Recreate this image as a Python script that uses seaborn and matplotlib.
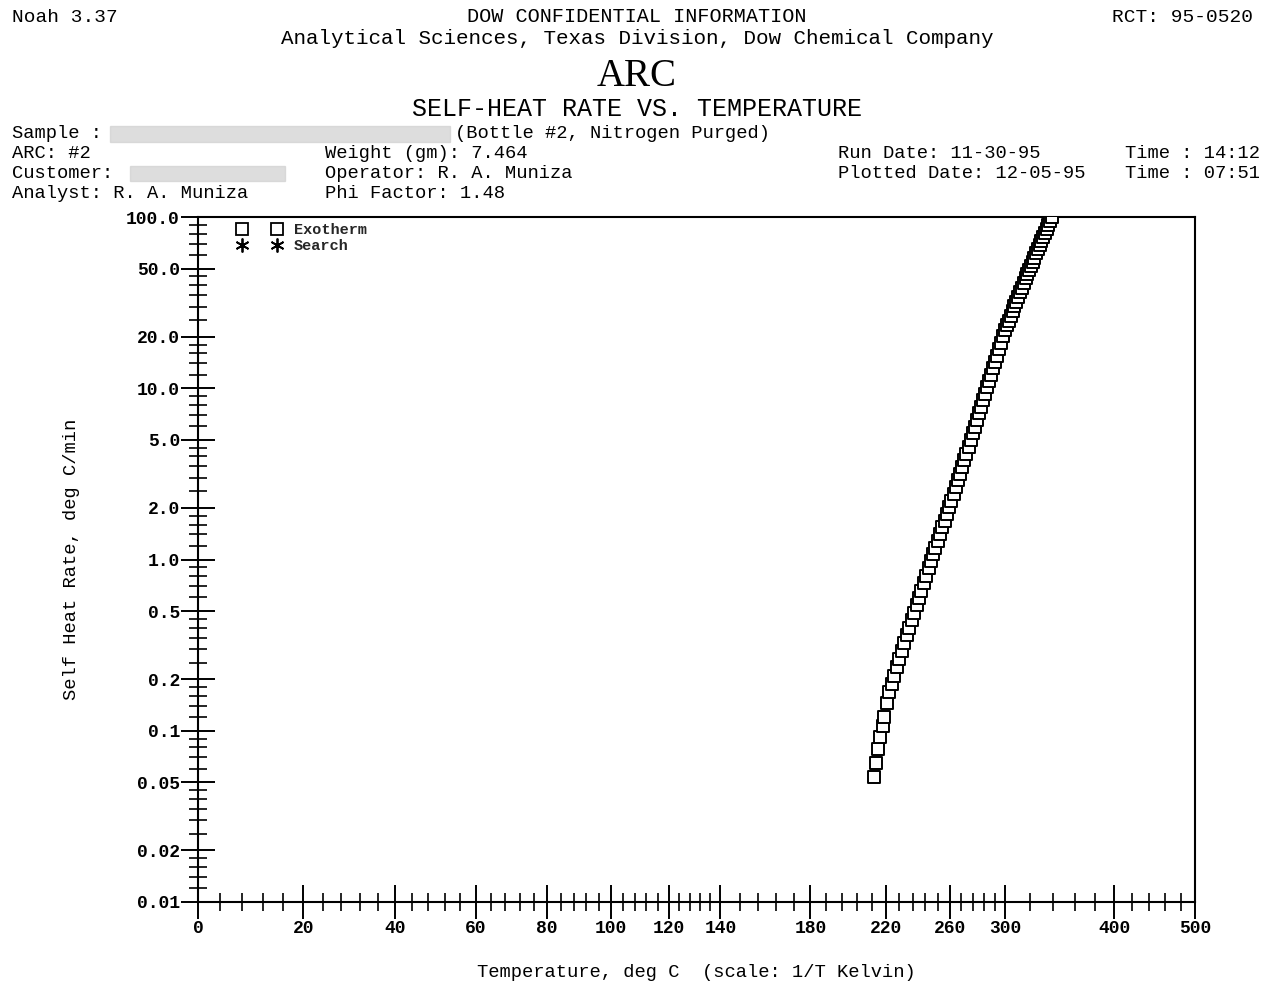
import numpy as np
import matplotlib
matplotlib.use("Agg")
import matplotlib.pyplot as plt
import seaborn as sns
from matplotlib.lines import Line2D
from matplotlib.ticker import FixedLocator, NullFormatter

# exotherm data (deg C, deg C/min)
temps = [213.5, 214.4, 215.7, 216.7, 218.2, 219.2, 220.5, 222.1, 223.5, 225.0,
         226.5, 228.0, 229.5, 231.0, 232.5, 234.0, 235.5, 237.0, 238.5, 240.0,
         241.5, 243.0, 244.5, 246.0, 247.5, 249.0, 250.5, 252.0, 253.5, 255.0,
         256.5, 258.0, 259.5, 261.0, 262.5, 264.0, 265.5, 267.0, 268.5, 270.0,
         271.5, 273.0, 274.5, 276.0, 277.5, 279.0, 280.5, 282.0, 283.5, 285.0,
         286.5, 288.0, 289.5, 291.0, 292.5, 294.0, 295.5, 297.0, 298.5, 300.0,
         301.5, 303.0, 304.5, 306.0, 307.5, 309.0, 310.5, 312.0, 313.5, 315.0,
         316.5, 318.0, 319.5, 321.0, 322.5, 324.0, 325.5, 327.0, 328.5, 330.0,
         331.5, 333.0, 334.5, 336.0, 337.5, 339.0]
rates = [0.0535, 0.065, 0.078, 0.092, 0.107, 0.120, 0.145, 0.169, 0.188, 0.210,
         0.235, 0.263, 0.294, 0.327, 0.361, 0.399, 0.441, 0.488, 0.539, 0.596,
         0.659, 0.728, 0.805, 0.890, 0.980, 1.072, 1.174, 1.284, 1.406, 1.539,
         1.684, 1.843, 2.017, 2.207, 2.415, 2.644, 2.893, 3.168, 3.467, 3.796,
         4.156, 4.550, 4.982, 5.455, 5.970, 6.536, 7.156, 7.815, 8.516, 9.278,
         10.11, 11.01, 12.00, 13.08, 14.25, 15.52, 16.92, 18.43, 20.08, 21.88,
         23.31, 24.83, 26.46, 28.18, 30.04, 32.00, 34.09, 36.32, 38.69, 41.22,
         43.92, 46.66, 49.28, 52.03, 54.95, 58.01, 61.27, 64.70, 68.31, 72.14,
         76.17, 80.44, 84.94, 89.70, 94.71, 100.0]
search_temps = []
search_rates = []

x_major = [0, 20, 40, 60, 80, 100, 120, 140, 180, 220, 260, 300, 400, 500]
y_major = [0.01, 0.02, 0.05, 0.1, 0.2, 0.5, 1, 2, 5, 10, 20, 50, 100]
y_labels = ["0.01", "0.02", "0.05", "0.1", "0.2", "0.5", "1.0", "2.0",
            "5.0", "10.0", "20.0", "50.0", "100.0"]

sns.set_theme(style="white")
mono = "Liberation Mono"
plt.rcParams["font.family"] = [mono, "DejaVu Sans"]

W, H = 1271, 992
fig = plt.figure(figsize=(W / 100, H / 100), dpi=100)
ax = fig.add_axes([198 / W, 1 - 902 / H, 997 / W, 685 / H])


def fwd(t):
    t = np.asarray(t, dtype=float)
    with np.errstate(divide="ignore", invalid="ignore"):
        return -1.0 / (t + 273.15)


def inv(u):
    u = np.asarray(u, dtype=float)
    with np.errstate(divide="ignore", invalid="ignore"):
        return -1.0 / u - 273.15


sns.scatterplot(x=temps, y=rates, ax=ax, marker="s", s=66, color="white",
                edgecolor="black", linewidth=1.4, legend=False, zorder=3)
ax.plot(search_temps, search_rates, ls="none", marker=(6, 2, 0), color="black")

ax.set_xscale("function", functions=(fwd, inv))
ax.set_yscale("log")
ax.set_xlim(0, 500)
ax.set_ylim(0.01, 100)

# ticks
x_minor = [v for v in list(np.arange(0, 140, 4)) + list(np.arange(140, 300, 8))
           + list(np.arange(300, 500, 20)) if v not in x_major]
ax.set_xticks(x_major, [str(v) for v in x_major])
ax.xaxis.set_minor_locator(FixedLocator(x_minor))
ax.xaxis.set_minor_formatter(NullFormatter())

y_minor = []
for dec in [0.01, 0.1, 1, 10]:
    for m in [1.2, 1.4, 1.6, 1.8, 2.5, 3, 3.5, 4, 4.5, 6, 7, 8, 9]:
        y_minor.append(m * dec)
ax.set_yticks(y_major, y_labels)
ax.yaxis.set_minor_locator(FixedLocator(y_minor))
ax.yaxis.set_minor_formatter(NullFormatter())

ax.tick_params(axis="both", which="both", bottom=True, left=True,
               top=False, right=False)
ax.tick_params(axis="both", which="major", direction="inout", length=24,
               width=1.4, colors="black", labelsize=13, pad=1)
ax.tick_params(axis="both", which="minor", direction="inout", length=13,
               width=1.2, colors="black")
for lab in ax.get_xticklabels() + ax.get_yticklabels():
    lab.set_fontweight("bold")
for sp in ax.spines.values():
    sp.set_visible(True)
    sp.set_color("black")
    sp.set_linewidth(1.5)

ax.set_xlabel("Temperature, deg C  (scale: 1/T Kelvin)", fontsize=13.5,
              color="black")
ax.xaxis.set_label_coords(0.5, -0.09)
ax.set_ylabel("Self Heat Rate, deg C/min", fontsize=13.5, color="black")
ax.yaxis.set_label_coords(-0.118, 0.5)

handles = [Line2D([], [], ls="none", marker="s", ms=9, mfc="white", mec="black", mew=1.3),
           Line2D([], [], ls="none", marker=(6, 2, 0), ms=10, color="black", mew=1.3)]
ax.legend(handles, ["Exotherm", "Search"], loc="upper left", numpoints=2,
          frameon=False, handlelength=2.9, handletextpad=0.8, labelspacing=0.15,
          borderaxespad=0.0, bbox_to_anchor=(0.033, 1.0),
          prop={"family": mono, "size": 11, "weight": "bold"})


def ftext(x, y, s, size=13.5, ha="left", **kw):
    fig.text(x / W, 1 - y / H, s, ha=ha, va="center", fontsize=size,
             family=kw.pop("family", mono), color="black", **kw)


ftext(12, 17, "Noah 3.37", 14)
ftext(637, 17, "DOW CONFIDENTIAL INFORMATION", 14.5, ha="center")
ftext(1112, 17, "RCT: 95-0520", 14)
ftext(637, 39, "Analytical Sciences, Texas Division, Dow Chemical Company", 15, ha="center")
ftext(637, 76, "ARC", 28, ha="center", family="Liberation Serif")
ftext(637, 109, "SELF-HEAT RATE VS. TEMPERATURE", 18, ha="center")
ftext(12, 134, "Sample :")
ftext(455, 133, "(Bottle #2, Nitrogen Purged)")
ftext(12, 153, "ARC: #2")
ftext(12, 173, "Customer:")
ftext(12, 193, "Analyst: R. A. Muniza")
ftext(325, 153, "Weight (gm): 7.464")
ftext(325, 173, "Operator: R. A. Muniza")
ftext(325, 193, "Phi Factor: 1.48")
ftext(838, 153, "Run Date: 11-30-95")
ftext(838, 173, "Plotted Date: 12-05-95")
ftext(1125, 153, "Time : 14:12")
ftext(1125, 173, "Time : 07:51")

# redacted (blurred) fields
fig.patches.append(plt.Rectangle((110 / W, 1 - 142 / H), 340 / W, 16 / H,
                                 transform=fig.transFigure, color="#cfcfcf", alpha=0.7))
fig.patches.append(plt.Rectangle((130 / W, 1 - 181 / H), 155 / W, 15 / H,
                                 transform=fig.transFigure, color="#cfcfcf", alpha=0.7))

fig.savefig("out.png", dpi=100, facecolor="white")
